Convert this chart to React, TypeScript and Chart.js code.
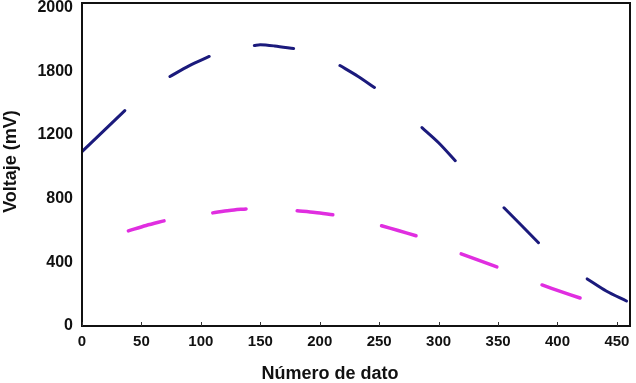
import React, { useEffect, useRef } from "react";
import { Chart, registerables } from "chart.js";

Chart.register(...registerables);

// Número de dato (x) and voltaje (mV) readings; null marks a gap between dashes
const blueX = [0, 18, 36, 55, 74, 90, 107, 126, 145, 150, 162, 178, 198, 217, 232, 246, 266, 286, 300, 314, 335, 355, 370, 384, 405, 425, 441, 458];
const blueY: (number | null)[] = [1096, 1225, 1354, null, 1568, 1635, 1694, null, 1763, 1768, 1760, 1744, null, 1637, 1570, 1499, null, 1247, 1152, 1039, null, 743, 630, 523, null, 296, 220, 157];

const pinkX = [39, 54, 69, 90, 110, 124, 138, 160, 181, 196, 211, 232, 252, 266, 281, 300, 319, 334, 349, 368, 387, 403, 419];
const pinkY: (number | null)[] = [598, 632, 661, null, 711, 726, 736, null, 724, 714, 699, null, 630, 600, 567, null, 453, 412, 371, null, 258, 216, 176];

const yTickValues = [0, 400, 800, 1200, 1600, 2000];
const yTickLabels = ["0", "400", "800", "1200", "1800", "2000"];
const xTickValues = [0, 50, 100, 150, 200, 250, 300, 350, 400, 450];

const xTitle = "Número de dato";
const yTitle = "Voltaje (mV)";

const FONT = "'Liberation Sans', Arial, sans-serif";

const framePlugin = {
  id: "frame",
  afterDraw(chart: any) {
    const { ctx, chartArea } = chart;
    const xs = chart.scales.x;
    ctx.save();
    ctx.strokeStyle = "#111";
    ctx.lineWidth = 2;
    ctx.strokeRect(chartArea.left, chartArea.top, chartArea.right - chartArea.left, chartArea.bottom - chartArea.top);
    ctx.lineWidth = 1;
    ctx.strokeStyle = "#333";
    for (const v of xTickValues) {
      const px = Math.round(xs.getPixelForValue(v)) + 0.5;
      ctx.beginPath();
      ctx.moveTo(px, chartArea.bottom);
      ctx.lineTo(px, chartArea.bottom - 4);
      ctx.stroke();
    }
    ctx.fillStyle = "#111";
    ctx.font = `bold 18px ${FONT}`;
    ctx.textAlign = "center";
    ctx.textBaseline = "middle";
    ctx.fillText(xTitle, 330, 374);
    ctx.translate(11, (chartArea.top + chartArea.bottom) / 2 - 3);
    ctx.rotate(-Math.PI / 2);
    ctx.fillText(yTitle, 0, 0);
    ctx.restore();
  },
};

export default function App() {
  const ref = useRef<HTMLCanvasElement>(null);
  useEffect(() => {
    if (!ref.current) return;
    const chart = new Chart(ref.current, {
      type: "line",
      data: {
        datasets: [
          {
            label: "blue",
            data: blueX.map((x, i) => ({ x, y: blueY[i] })) as any,
            borderColor: "#1b1a7c",
            borderWidth: 3,
            pointRadius: 0,
            tension: 0.3,
            spanGaps: false,
            borderCapStyle: "round",
          },
          {
            label: "pink",
            data: pinkX.map((x, i) => ({ x, y: pinkY[i] })) as any,
            borderColor: "#e02ee0",
            borderWidth: 3.5,
            pointRadius: 0,
            tension: 0.3,
            spanGaps: false,
            borderCapStyle: "round",
          },
        ],
      },
      options: {
        animation: false,
        responsive: false,
        layout: { padding: { top: 3, right: 6, left: 0, bottom: 0 } },
        plugins: { legend: { display: false }, tooltip: { enabled: false } },
        scales: {
          x: {
            type: "linear",
            min: 0,
            max: 461,
            grid: { display: false, drawTicks: false },
            border: { display: false },
            afterFit: (s: any) => {
              s.height = 57;
              s.paddingLeft = 0;
              s.paddingRight = 0;
            },
            afterBuildTicks: (s: any) => {
              s.ticks = xTickValues.map((v) => ({ value: v }));
            },
            ticks: {
              padding: 7,
              color: "#111",
              font: { family: FONT, size: 15, weight: "bold" },
              maxRotation: 0,
              autoSkip: false,
            },
          },
          y: {
            min: 0,
            max: 2030,
            grid: { display: false, drawTicks: false },
            border: { display: false },
            afterFit: (s: any) => {
              s.width = 82;
              s.paddingTop = 0;
              s.paddingBottom = 0;
            },
            afterBuildTicks: (s: any) => {
              s.ticks = yTickValues.map((v) => ({ value: v }));
            },
            ticks: {
              padding: 9,
              color: "#111",
              font: { family: FONT, size: 16, weight: "bold" },
              callback: (v: any) => {
                const i = yTickValues.indexOf(Number(v));
                return i >= 0 ? yTickLabels[i] : "";
              },
            },
          },
        },
      },
      plugins: [framePlugin],
    });
    return () => chart.destroy();
  }, []);
  return (
    <div style={{ position: "fixed", left: 0, top: 0, width: 636, height: 383, background: "#fff" }}>
      <canvas ref={ref} width={636} height={383} />
    </div>
  );
}
